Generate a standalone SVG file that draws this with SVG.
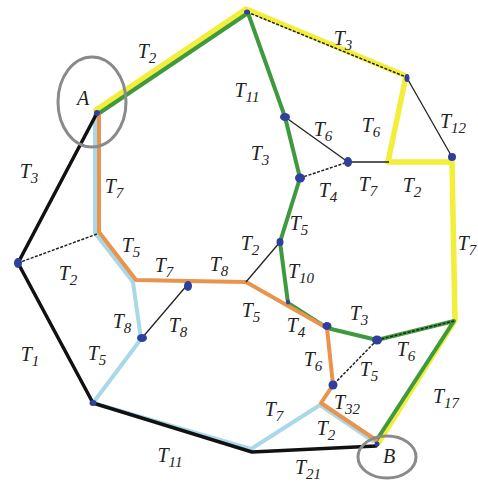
<svg xmlns="http://www.w3.org/2000/svg" width="478" height="483" viewBox="0 0 478 483">
<style>
.y{fill:none;stroke:#f2ee3a;stroke-width:5.5;stroke-linejoin:round;stroke-linecap:round}
.g{fill:none;stroke:#3f9a3f;stroke-width:4;stroke-linejoin:round;stroke-linecap:round}
.o{fill:none;stroke:#e8944e;stroke-width:4;stroke-linejoin:round;stroke-linecap:round}
.lb{fill:none;stroke:#a9d8e6;stroke-width:4;stroke-linejoin:round;stroke-linecap:round}
.k{fill:none;stroke:#111;stroke-width:3.5;stroke-linejoin:round;stroke-linecap:round}
.t{fill:none;stroke:#222;stroke-width:1.3}
.td{fill:none;stroke:#222;stroke-width:1.5;stroke-dasharray:3 1.5}
.n{fill:#2f3f9e}
.c{fill:none;stroke:#8a8a8a;stroke-width:3}
.l{font-family:"Liberation Serif",serif;font-style:italic;font-size:20px;fill:#222;text-anchor:middle}
.s{font-size:15px}
</style>
<g id="connectors">
<polyline class="y" points="96,110 246,9 406,76 388,162 452,162 455,320 379,442"/>
<polyline class="g" points="98,114 248,13 285,117 300,178 280,242 288,303 327,328 377,340 454,321 376,441"/>
<polyline class="lb" points="95,115 95,233 133,282 141,339 93,403 251,449 320,405 373,441"/>
<polyline class="o" points="99,115 99,232 136,280 188,281 246,282 327,328 333,385 321,403 376,440"/>
<polyline class="k" points="97,113 18,263 93,403 252,452 376,446"/>
<line class="td" x1="247" y1="12" x2="406" y2="77"/>
<line class="td" x1="18" y1="263" x2="97" y2="234"/>
<line class="t" x1="188" y1="284" x2="142" y2="338"/>
<line class="t" x1="246" y1="282" x2="280" y2="242"/>
<line class="t" x1="285" y1="117" x2="348" y2="162"/>
<line class="td" x1="300" y1="178" x2="348" y2="162"/>
<line class="t" x1="348" y1="162" x2="389" y2="162"/>
<line class="t" x1="407" y1="78" x2="452" y2="157"/>
<line class="td" x1="377" y1="340" x2="333" y2="385"/>
<line class="td" x1="377" y1="340" x2="454" y2="321"/>
</g>
<g id="nodes">
<g id="nA"><ellipse class="c" cx="92" cy="102" rx="34" ry="45"/><ellipse class="n" cx="97" cy="113" rx="3" ry="3"/><text class="l" x="83" y="105">A</text></g>
<g id="nB"><ellipse class="c" cx="387" cy="457" rx="29" ry="21"/><ellipse class="n" cx="377" cy="444" rx="2.5" ry="2.5"/><text class="l" x="389" y="463">B</text></g>
<g id="n1"><ellipse class="n" cx="18" cy="263" rx="4" ry="5"/></g>
<g id="n2"><ellipse class="n" cx="247" cy="12" rx="3" ry="2.5"/></g>
<g id="n3"><ellipse class="n" cx="407" cy="78" rx="2.5" ry="4"/></g>
<g id="n4"><ellipse class="n" cx="452" cy="157" rx="4" ry="4"/></g>
<g id="n5"><ellipse class="n" cx="285" cy="117" rx="5" ry="4"/></g>
<g id="n6"><ellipse class="n" cx="348" cy="162" rx="4" ry="5"/></g>
<g id="n7"><ellipse class="n" cx="300" cy="178" rx="5" ry="4.5"/></g>
<g id="n8"><ellipse class="n" cx="280" cy="242" rx="3.5" ry="4"/></g>
<g id="n9"><ellipse class="n" cx="188" cy="286" rx="4" ry="5"/></g>
<g id="n10"><ellipse class="n" cx="142" cy="338" rx="5" ry="4"/></g>
<g id="n11"><ellipse class="n" cx="327" cy="326" rx="4.5" ry="4"/></g>
<g id="n12"><ellipse class="n" cx="377" cy="340" rx="5" ry="4.5"/></g>
<g id="n13"><ellipse class="n" cx="333" cy="385" rx="4.5" ry="4.5"/></g>
<g id="n14"><ellipse class="n" cx="93" cy="403" rx="3.5" ry="3"/></g>
<g id="n15"><ellipse class="n" cx="288" cy="302" rx="2" ry="2.5"/></g>
</g>
<g id="labels">
<text class="l" x="147" y="58">T<tspan class="s" dy="5">2</tspan></text>
<text class="l" x="343" y="45">T<tspan class="s" dy="5">3</tspan></text>
<text class="l" x="247" y="97">T<tspan class="s" dy="5">11</tspan></text>
<text class="l" x="323" y="136">T<tspan class="s" dy="5">6</tspan></text>
<text class="l" x="371" y="132">T<tspan class="s" dy="5">6</tspan></text>
<text class="l" x="453" y="128">T<tspan class="s" dy="5">12</tspan></text>
<text class="l" x="260" y="160">T<tspan class="s" dy="5">3</tspan></text>
<text class="l" x="328" y="197">T<tspan class="s" dy="5">4</tspan></text>
<text class="l" x="368" y="191">T<tspan class="s" dy="5">7</tspan></text>
<text class="l" x="412" y="192">T<tspan class="s" dy="5">2</tspan></text>
<text class="l" x="467" y="250">T<tspan class="s" dy="5">7</tspan></text>
<text class="l" x="299" y="230">T<tspan class="s" dy="5">5</tspan></text>
<text class="l" x="250" y="250">T<tspan class="s" dy="5">2</tspan></text>
<text class="l" x="301" y="278">T<tspan class="s" dy="5">10</tspan></text>
<text class="l" x="29" y="178">T<tspan class="s" dy="5">3</tspan></text>
<text class="l" x="114" y="193">T<tspan class="s" dy="5">7</tspan></text>
<text class="l" x="131" y="252">T<tspan class="s" dy="5">5</tspan></text>
<text class="l" x="68" y="280">T<tspan class="s" dy="5">2</tspan></text>
<text class="l" x="164" y="272">T<tspan class="s" dy="5">7</tspan></text>
<text class="l" x="219" y="271">T<tspan class="s" dy="5">8</tspan></text>
<text class="l" x="122" y="328">T<tspan class="s" dy="5">8</tspan></text>
<text class="l" x="178" y="332">T<tspan class="s" dy="5">8</tspan></text>
<text class="l" x="251" y="317">T<tspan class="s" dy="5">5</tspan></text>
<text class="l" x="296" y="332">T<tspan class="s" dy="5">4</tspan></text>
<text class="l" x="359" y="320">T<tspan class="s" dy="5">3</tspan></text>
<text class="l" x="313" y="366">T<tspan class="s" dy="5">6</tspan></text>
<text class="l" x="369" y="376">T<tspan class="s" dy="5">5</tspan></text>
<text class="l" x="406" y="356">T<tspan class="s" dy="5">6</tspan></text>
<text class="l" x="347" y="409">T<tspan class="s" dy="5">32</tspan></text>
<text class="l" x="446" y="403">T<tspan class="s" dy="5">17</tspan></text>
<text class="l" x="274" y="416">T<tspan class="s" dy="5">7</tspan></text>
<text class="l" x="326" y="435">T<tspan class="s" dy="5">2</tspan></text>
<text class="l" x="308" y="474">T<tspan class="s" dy="5">21</tspan></text>
<text class="l" x="170" y="462">T<tspan class="s" dy="5">11</tspan></text>
<text class="l" x="30" y="361">T<tspan class="s" dy="5">1</tspan></text>
<text class="l" x="97" y="360">T<tspan class="s" dy="5">5</tspan></text>
</g>
</svg>
